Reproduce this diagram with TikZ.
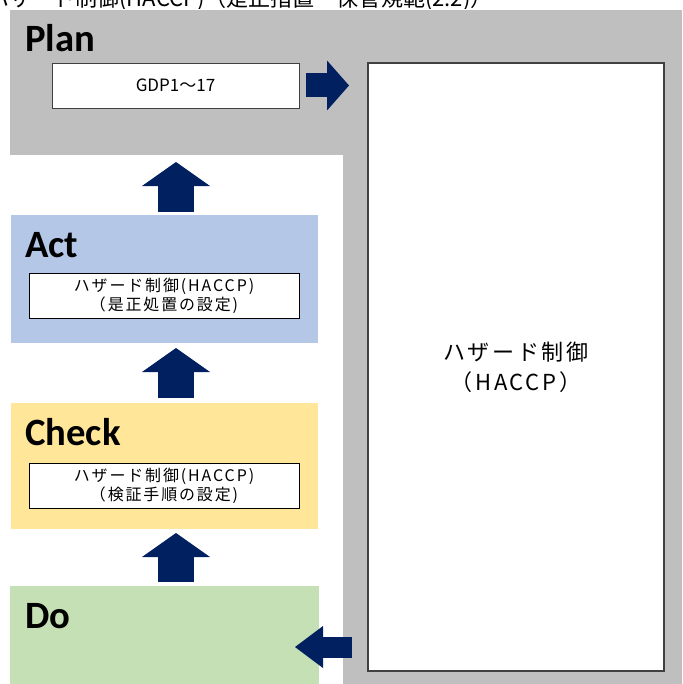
\documentclass[tikz,border=0pt]{standalone}
\usepackage{fontspec}
\setmainfont{Carlito}
\newfontfamily\jp{Noto Sans CJK JP}
\newfontfamily\jpbox[LetterSpace=12]{Noto Sans CJK JP}
\usetikzlibrary{arrows.meta,calc}
\definecolor{plangray}{HTML}{BFBFBF}
\definecolor{actblue}{HTML}{B4C7E7}
\definecolor{checkyellow}{HTML}{FFE699}
\definecolor{dogreen}{HTML}{C5E0B4}
\definecolor{navyblue}{HTML}{002060}
\definecolor{edgegray}{HTML}{404040}
\tikzset{
  area/.style={anchor=north west, inner sep=0pt, outer sep=0pt},
  phase/.style={font=\bfseries\fontsize{33pt}{36pt}\selectfont, anchor=base west, inner sep=0pt},
  inbox/.style={area, draw=black, line width=0.8pt, fill=white, align=center,
    font=\jpbox\fontsize{13.6pt}{16.2pt}\selectfont},
  uparrow/.style={draw=navyblue, line width=1.08cm,
    -{Triangle[length=0.72cm, width=2.04cm, line width=0pt]}},
  rightarrow/.style={draw=navyblue, line width=0.72cm,
    -{Triangle[length=0.66cm, width=1.5cm, line width=0pt]}},
  leftarrow/.style={draw=navyblue, line width=0.63cm,
    -{Triangle[length=0.84cm, width=1.26cm, line width=0pt]}},
}
\begin{document}
\begin{tikzpicture}[x=0.03cm,y=-0.03cm]
\useasboundingbox (0,0) rectangle (682,684);
\fill[white] (0,0) rectangle (682,684);
% cut-off title line at the top
\begin{scope}
  \clip (0,0) rectangle (682,9);
  \node[anchor=base west, inner sep=0pt, font=\jp\fontsize{18.8pt}{22pt}\selectfont] (title) at (-13,7)
    {ハザード制御(HACCP)（是正措置・保管規範(2.2)）};
\end{scope}
% Plan area (L shape)
\node[area, fill=plangray, minimum width=672*0.03cm, minimum height=145*0.03cm] (plan) at (10,10) {};
\node[area, fill=plangray, minimum width=339*0.03cm, minimum height=529*0.03cm] (planside) at (343,155) {};
\node[phase] (plantxt) at (25,52) {Plan};
\node[area, draw=edgegray, line width=0.8pt, fill=white, minimum width=247*0.03cm, minimum height=45*0.03cm,
  font=\jp\fontsize{14.5pt}{16pt}\selectfont] (gdp) at (52,63) {GDP1～17};
% big HACCP box
\node[area, draw=edgegray, line width=1pt, fill=white, minimum width=296*0.03cm, minimum height=608*0.03cm,
  align=center, font=\jpbox\fontsize{18.8pt}{25.6pt}\selectfont] (big) at (368,63) {ハザード制御\\（HACCP）};
% Act
\node[area, fill=actblue, minimum width=307*0.03cm, minimum height=128*0.03cm] (act) at (11,215) {};
\node[phase] (acttxt) at (25,257) {Act};
\node[inbox, minimum width=270*0.03cm, minimum height=45*0.03cm] (actin) at (29,273)
  {ハザード制御(HACCP)\\（是正処置の設定)};
% Check
\node[area, fill=checkyellow, minimum width=307*0.03cm, minimum height=126*0.03cm] (check) at (11,403) {};
\node[phase] (checktxt) at (25,445) {Check};
\node[inbox, minimum width=270*0.03cm, minimum height=45*0.03cm] (checkin) at (29,463)
  {ハザード制御(HACCP)\\（検証手順の設定)};
% Do
\node[area, fill=dogreen, minimum width=309*0.03cm, minimum height=98*0.03cm] (do) at (10,586) {};
\node[phase] (dotxt) at (25,628) {Do};
% arrows
\draw[uparrow] ($(act.north)+(11.5,-3)$) -- ($(act.north |- plan.south)+(11.5,7)$);
\draw[uparrow] ($(check.north)+(11.5,-5)$) -- ($(act.south)+(11.5,5)$);
\draw[uparrow] ($(do.north)+(11.5,-4)$) -- ($(check.south)+(11.5,4)$);
\draw[rightarrow] ($(gdp.east)+(7,0)$) -- ($(gdp.east -| big.west)+(-19,0)$);
\draw[leftarrow] ($(big.west |- do.east)+(-16,12)$) -- ($(do.east)+(-24,12)$);
\end{tikzpicture}
\end{document}
